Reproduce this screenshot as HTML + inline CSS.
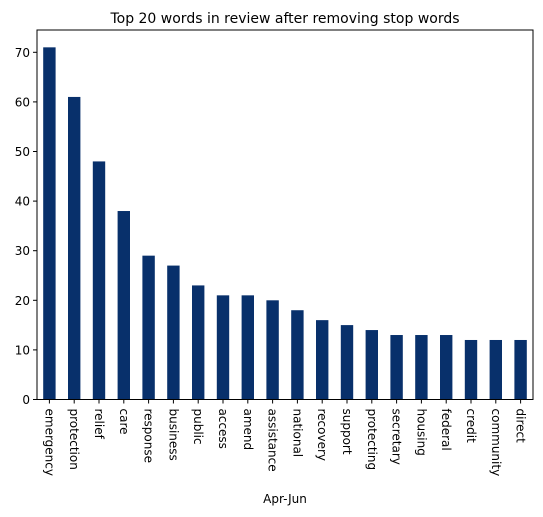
<!DOCTYPE html>
<html><head><meta charset="utf-8"><style>
body{margin:0;background:#fff;}
svg{display:block;font-family:"DejaVu Sans","Liberation Sans",sans-serif;}
</style></head><body>
<svg id="chart" width="543" height="517">
<text x="285" y="23" text-anchor="middle" font-size="14">Top 20 words in review after removing stop words</text>
<text x="285" y="503" text-anchor="middle" font-size="12">Apr-Jun</text>
<g id="bars"></g><g id="yticks"></g><g id="xticks"></g>
<rect x="37" y="30" width="496" height="369.5" fill="none" stroke="#000" stroke-width="1"/>
</svg>
<script>
const categories=["emergency","protection","relief","care","response","business","public","access","amend","assistance","national","recovery","support","protecting","secretary","housing","federal","credit","community","direct"];
const values=[71,61,48,38,29,27,23,21,21,20,18,16,15,14,13,13,13,12,12,12];
const yTickLabels=[0,10,20,30,40,50,60,70];
const L=37,R=533,B=399.5,ppu=4.96;
const y=v=>B-v*ppu;
const step=(R-L)/categories.length;
const xc=i=>L+step*(i+0.5);
const ns="http://www.w3.org/2000/svg";
const mk=(t,a,p)=>{const e=document.createElementNS(ns,t);for(const k in a)e.setAttribute(k,a[k]);p.appendChild(e);return e;};
const gb=document.getElementById('bars'),gy=document.getElementById('yticks'),gx=document.getElementById('xticks');
values.forEach((v,i)=>{
 const r=mk('rect',{x:xc(i)-step/4,y:y(v),width:step/2,height:B-y(v),fill:'#08306b'},gb);
 
 
 const t=mk('line',{x1:xc(i),x2:xc(i),y1:B,y2:B+4,stroke:'#000'},gx);
 
 
 const l=mk('text',{x:0,y:0,'font-size':12,transform:`translate(${xc(i)-4},${B+9}) rotate(90)`},gx);
 l.textContent=categories[i];
 
 
});
yTickLabels.forEach(v=>{
 const t=mk('line',{x1:L-4,x2:L,y1:y(v),y2:y(v),stroke:'#000'},gy);
 
 
 const l=mk('text',{x:L-7,y:y(v)+4.5,'font-size':12,'text-anchor':'end'},gy);
 l.textContent=v;
 
 
});
</script>
</body></html>
